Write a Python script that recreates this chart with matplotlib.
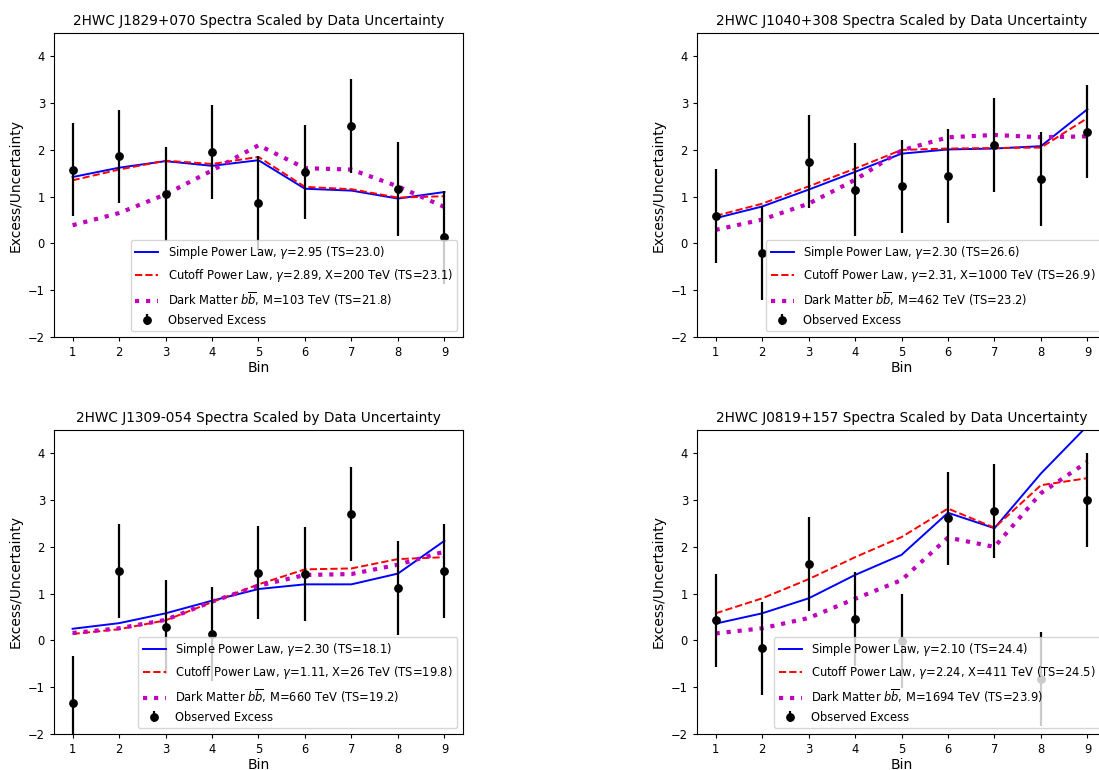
import numpy as np
import matplotlib
matplotlib.use('Agg')
import matplotlib.pyplot as plt

bins = [1, 2, 3, 4, 5, 6, 7, 8, 9]

# 2HWC J1829+070
obs_1829 = [1.58, 1.86, 1.06, 1.95, 0.86, 1.53, 2.51, 1.17, 0.13]
spl_1829 = [1.42, 1.62, 1.76, 1.66, 1.78, 1.17, 1.13, 0.96, 1.10]
cpl_1829 = [1.35, 1.58, 1.77, 1.70, 1.85, 1.21, 1.16, 0.98, 1.01]
dm_1829 = [0.39, 0.65, 1.05, 1.56, 2.10, 1.61, 1.58, 1.22, 0.78]

# 2HWC J1040+308
obs_1040 = [0.59, -0.20, 1.75, 1.15, 1.22, 1.44, 2.10, 1.38, 2.39]
spl_1040 = [0.54, 0.79, 1.15, 1.53, 1.92, 2.01, 2.03, 2.08, 2.87]
cpl_1040 = [0.59, 0.85, 1.22, 1.60, 2.00, 2.03, 2.04, 2.05, 2.68]
dm_1040 = [0.29, 0.51, 0.85, 1.36, 1.99, 2.27, 2.32, 2.27, 2.29]

# 2HWC J1309-054
obs_1309 = [-1.33, 1.49, 0.29, 0.14, 1.45, 1.42, 2.70, 1.12, 1.49]
spl_1309 = [0.25, 0.37, 0.58, 0.85, 1.10, 1.20, 1.20, 1.43, 2.13]
cpl_1309 = [0.14, 0.24, 0.43, 0.82, 1.20, 1.52, 1.54, 1.74, 1.78]
dm_1309 = [0.16, 0.26, 0.44, 0.83, 1.17, 1.40, 1.42, 1.62, 1.90]

# 2HWC J0819+157
obs_0819 = [0.43, -0.17, 1.63, 0.46, -0.01, 2.61, 2.77, -0.82, 3.00]
spl_0819 = [0.36, 0.58, 0.90, 1.40, 1.83, 2.73, 2.40, 3.57, 4.59]
cpl_0819 = [0.58, 0.90, 1.31, 1.78, 2.21, 2.82, 2.41, 3.32, 3.47]
dm_0819 = [0.15, 0.26, 0.48, 0.89, 1.29, 2.20, 2.00, 3.15, 3.82]

names = ['2HWC J1829+070', '2HWC J1040+308', '2HWC J1309-054', '2HWC J0819+157']
spl_labels = [r'Simple Power Law, $\gamma$=2.95 (TS=23.0)',
              r'Simple Power Law, $\gamma$=2.30 (TS=26.6)',
              r'Simple Power Law, $\gamma$=2.30 (TS=18.1)',
              r'Simple Power Law, $\gamma$=2.10 (TS=24.4)']
cpl_labels = [r'Cutoff Power Law, $\gamma$=2.89, X=200 TeV (TS=23.1)',
              r'Cutoff Power Law, $\gamma$=2.31, X=1000 TeV (TS=26.9)',
              r'Cutoff Power Law, $\gamma$=1.11, X=26 TeV (TS=19.8)',
              r'Cutoff Power Law, $\gamma$=2.24, X=411 TeV (TS=24.5)']
dm_labels = [r'Dark Matter $b\overline{b}$, M=103 TeV (TS=21.8)',
             r'Dark Matter $b\overline{b}$, M=462 TeV (TS=23.2)',
             r'Dark Matter $b\overline{b}$, M=660 TeV (TS=19.2)',
             r'Dark Matter $b\overline{b}$, M=1694 TeV (TS=23.9)']

observed = [obs_1829, obs_1040, obs_1309, obs_0819]
simple = [spl_1829, spl_1040, spl_1309, spl_0819]
cutoff = [cpl_1829, cpl_1040, cpl_1309, cpl_0819]
dark = [dm_1829, dm_1040, dm_1309, dm_0819]

W, H = 1099, 770
fig = plt.figure(figsize=(W / 100, H / 100), dpi=100)

# axes boxes in pixels (left, top); the right column runs past the edge of the picture
boxes = [(54, 33), (697, 33), (54, 430), (697, 430)]
aw, ah = 409, 304

for i in range(4):
    x0, top = boxes[i]
    ax = fig.add_axes([x0 / W, (H - top - ah) / H, aw / W, ah / H])
    ax.plot(bins, simple[i], 'b-', lw=1.4, label=spl_labels[i])
    ax.plot(bins, cutoff[i], 'r--', lw=1.4, label=cpl_labels[i])
    ax.plot(bins, dark[i], 'm:', lw=3.0, label=dm_labels[i])
    ax.errorbar(bins, observed[i], yerr=np.ones(len(bins)), fmt='ko',
                ms=5.3, elinewidth=1.6, label='Observed Excess')
    ax.set_ylim(-2, 4.5)
    ax.set_xticks(bins)
    ax.set_title(names[i] + ' Spectra Scaled by Data Uncertainty', fontsize=9.8)
    ax.set_xlabel('Bin', fontsize=10, labelpad=1.5)
    ax.set_ylabel('Excess/Uncertainty', fontsize=10)
    ax.tick_params(labelsize=8.3, width=0.8, length=3)
    ax.legend(loc='lower right', fontsize=8.3)

fig.savefig('out.png', dpi=100)
